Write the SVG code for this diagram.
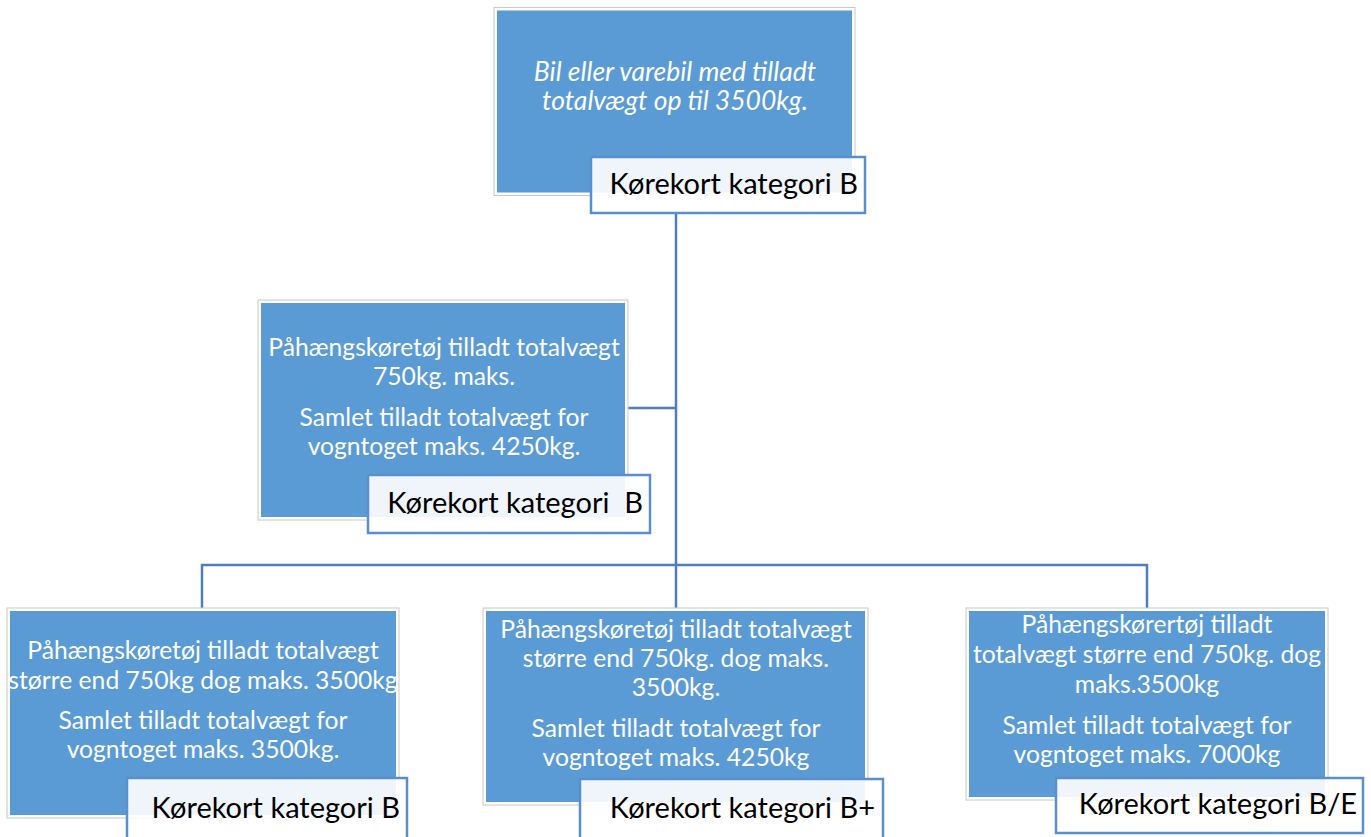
<svg xmlns="http://www.w3.org/2000/svg" width="1371" height="837" viewBox="0 0 1371 837">
<style>
.frame{fill:#ffffff;stroke:#c8c8c8;stroke-width:1}
.box{fill:#5b9bd5}
.lbl{fill:#ffffff;fill-opacity:0.9;stroke:#5b8fcc;stroke-width:2.5}
.t{font-family:Lato,"Open Sans","Liberation Sans",sans-serif;font-size:24.7px;fill:#ffffff;text-anchor:middle}
.ti{font-style:italic;font-size:26.5px}
.lt{font-family:Lato,"Open Sans","Liberation Sans",sans-serif;font-size:29px;fill:#000000;text-anchor:end}
.con{fill:none;stroke:#4f7fb8;stroke-width:2.5}
</style>
<g id="connectors">
<path class="con" d="M676,213 V565"/>
<path class="con" d="M628,408 H676"/>
<path class="con" d="M202,608 V565 H1147 V608"/>
<path class="con" d="M676,565 V608"/>
</g>
<g id="node-top">
<rect class="frame" x="494" y="7.5" width="361" height="188"/>
<rect class="box" x="497" y="10.5" width="355" height="182"/>
<text class="t ti" x="675" y="81">Bil eller varebil med tilladt</text>
<text class="t ti" x="675" y="110">totalvægt op til 3500kg.</text>
<rect class="lbl" x="591" y="157" width="274" height="56"/>
<text class="lt" x="858" y="194">Kørekort kategori B</text>
</g>
<g id="node-mid">
<rect class="frame" x="258" y="300" width="370" height="220"/>
<rect class="box" x="261" y="303" width="364" height="214"/>
<text class="t" x="444" y="356">Påhængskøretøj tilladt totalvægt</text>
<text class="t" x="444" y="385">750kg. maks.</text>
<text class="t" x="444" y="426">Samlet tilladt totalvægt for</text>
<text class="t" x="444" y="455">vogntoget maks. 4250kg.</text>
<rect class="lbl" x="368" y="475" width="282" height="58"/>
<text class="lt" x="643" y="513" xml:space="preserve">Kørekort kategori  B</text>
</g>
<g id="node-b">
<rect class="frame" x="7" y="608" width="392" height="210"/>
<rect class="box" x="10" y="611" width="386" height="204"/>
<text class="t" x="203" y="659">Påhængskøretøj tilladt totalvægt</text>
<text class="t" x="203" y="689">større end 750kg dog maks. 3500kg</text>
<text class="t" x="203" y="729">Samlet tilladt totalvægt for</text>
<text class="t" x="203" y="758">vogntoget maks. 3500kg.</text>
<rect class="lbl" x="127" y="778" width="280" height="70"/>
<text class="lt" x="400" y="818">Kørekort kategori B</text>
</g>
<g id="node-bplus">
<rect class="frame" x="483" y="608" width="385" height="197"/>
<rect class="box" x="486" y="611" width="379" height="191"/>
<text class="t" x="676" y="638">Påhængskøretøj tilladt totalvægt</text>
<text class="t" x="676" y="667">større end 750kg. dog maks.</text>
<text class="t" x="676" y="696">3500kg.</text>
<text class="t" x="676" y="737">Samlet tilladt totalvægt for</text>
<text class="t" x="676" y="766">vogntoget maks. 4250kg</text>
<rect class="lbl" x="580" y="779" width="303" height="70"/>
<text class="lt" x="875" y="818">Kørekort kategori B+</text>
</g>
<g id="node-be">
<rect class="frame" x="966" y="608" width="362" height="192"/>
<rect class="box" x="969" y="611" width="356" height="186"/>
<text class="t" x="1147" y="633">Påhængskørertøj tilladt</text>
<text class="t" x="1147" y="663">totalvægt større end 750kg. dog</text>
<text class="t" x="1147" y="693">maks.3500kg</text>
<text class="t" x="1147" y="734">Samlet tilladt totalvægt for</text>
<text class="t" x="1147" y="763">vogntoget maks. 7000kg</text>
<rect class="lbl" x="1056" y="778" width="307" height="55"/>
<text class="lt" x="1357" y="814">Kørekort kategori B/E</text>
</g>
</svg>
